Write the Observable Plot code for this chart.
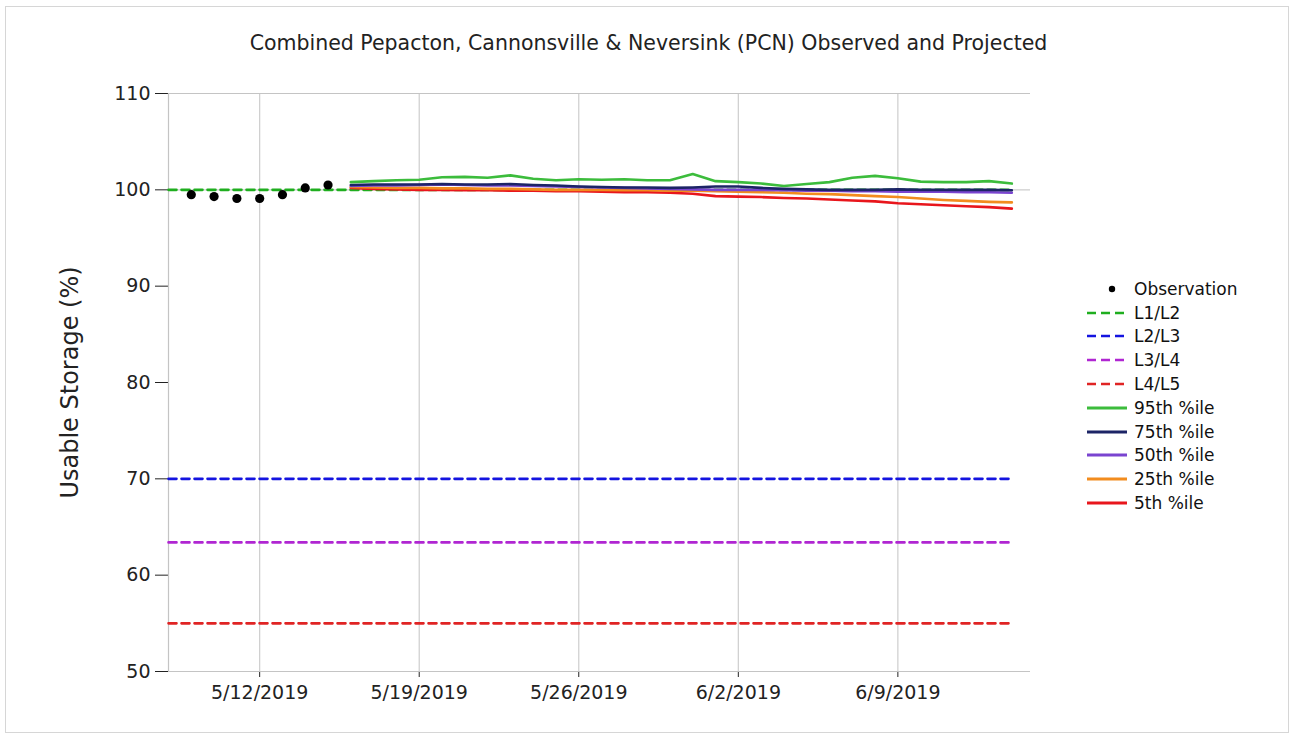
<!DOCTYPE html>
<html><head><meta charset="utf-8">
<script src="https://cdn.jsdelivr.net/npm/d3@7"></script>
<script src="https://cdn.jsdelivr.net/npm/@observablehq/plot@0.6"></script>
<style>
body{margin:0;background:#fff;}
#wrap{position:relative;width:1297px;height:738px;overflow:hidden;font-family:"DejaVu Sans",sans-serif;background:#fff;}
#border{position:absolute;left:5px;top:6px;width:1284px;height:727px;border:1px solid #d6d6d6;box-sizing:border-box;}
#title{position:absolute;left:0;top:31px;width:1297px;text-align:center;font-size:20.5px;color:#222;white-space:nowrap;}
#chart{position:absolute;left:0;top:70px;}
#legend{position:absolute;left:1086px;top:277px;}
.item{height:23.8px;display:flex;align-items:center;font-size:17px;color:#111;white-space:nowrap;}
.item svg{margin-right:6px;}
</style></head>
<body>
<div id="wrap">
  <div id="border"></div>
  <div id="title">Combined Pepacton, Cannonsville &amp; Neversink (PCN) Observed and Projected</div>
  <div id="chart"></div>
  <div id="legend"></div>
</div>
<script>
// ---- data ----
const obsDates = ["2019-05-09","2019-05-10","2019-05-11","2019-05-12","2019-05-13","2019-05-14","2019-05-15"];
const obsValues = [99.5, 99.3, 99.1, 99.1, 99.5, 100.2, 100.5];

const projDates = ["2019-05-16","2019-05-17","2019-05-18","2019-05-19","2019-05-20","2019-05-21","2019-05-22","2019-05-23",
  "2019-05-24","2019-05-25","2019-05-26","2019-05-27","2019-05-28","2019-05-29","2019-05-30","2019-05-31",
  "2019-06-01","2019-06-02","2019-06-03","2019-06-04","2019-06-05","2019-06-06","2019-06-07","2019-06-08",
  "2019-06-09","2019-06-10","2019-06-11","2019-06-12","2019-06-13","2019-06-14"];
const p95 = [100.8,100.9,101.0,101.05,101.3,101.35,101.25,101.5,101.15,101.0,101.1,101.05,101.1,101.0,101.0,101.65,
  100.9,100.8,100.65,100.4,100.6,100.8,101.25,101.45,101.2,100.85,100.8,100.8,100.9,100.65];
const p75 = [100.5,100.55,100.55,100.55,100.6,100.55,100.55,100.6,100.5,100.45,100.35,100.3,100.25,100.25,100.2,100.25,
  100.35,100.35,100.2,100.1,100.05,100.0,100.0,100.0,100.05,100.0,100.0,100.0,100.0,99.95];
const p50 = [100.4,100.45,100.45,100.5,100.55,100.5,100.45,100.45,100.4,100.35,100.3,100.25,100.2,100.15,100.1,100.05,
  100.0,100.0,100.0,99.95,99.9,99.9,99.85,99.85,99.8,99.8,99.8,99.75,99.75,99.7];
const p25 = [100.3,100.25,100.2,100.2,100.15,100.15,100.1,100.1,100.05,100.0,100.0,100.0,99.95,99.95,99.9,99.9,
  99.85,99.8,99.75,99.7,99.6,99.55,99.45,99.35,99.25,99.1,98.95,98.85,98.75,98.7];
const p5 = [100.2,100.1,100.05,100.0,100.0,99.95,99.95,99.9,99.9,99.85,99.85,99.8,99.75,99.75,99.7,99.6,
  99.35,99.3,99.25,99.15,99.1,99.0,98.9,98.8,98.6,98.5,98.4,98.3,98.2,98.05];

const levelNames = ["L1/L2","L2/L3","L3/L4","L4/L5"];
const levelValues = [100, 70, 63.4, 55];
const levelDates = ["2019-05-08","2019-06-14"];

const pctNames = ["95th %ile","75th %ile","50th %ile","25th %ile","5th %ile"];
const pctSeries = [p95, p75, p50, p25, p5];

const xTickDates = ["2019-05-12","2019-05-19","2019-05-26","2019-06-02","2019-06-09"];
const yTicks = [50,60,70,80,90,100,110];

const colors = {
  "Observation":"#000000",
  "L1/L2":"#1fae1f","L2/L3":"#1414e0","L3/L4":"#b026d2","L4/L5":"#e02424",
  "95th %ile":"#3cbc3c","75th %ile":"#1c2466","50th %ile":"#7a44d0","25th %ile":"#f28c1e","5th %ile":"#e8161c"
};

// ---- build tables ----
const parse = d3.timeParse("%Y-%m-%d");
const obs = obsDates.map((d,i)=>({date:parse(d), value:obsValues[i]}));
const levels = levelNames.flatMap((n,i)=>levelDates.map(d=>({name:n, date:parse(d), value:levelValues[i]})));
const proj = pctNames.flatMap((n,i)=>projDates.map((d,j)=>({name:n, date:parse(d), value:pctSeries[i][j]})));
const x0 = parse("2019-05-08"), x1 = new Date(2019,5,14,19,40);

const drawOrder = ["5th %ile","25th %ile","50th %ile","75th %ile","95th %ile"];

const plot = Plot.plot({
  width:1297, height:668,
  marginTop:23, marginBottom:67, marginLeft:168, marginRight:267,
  style:{fontFamily:"DejaVu Sans, sans-serif", fontSize:"19px", color:"#222", background:"transparent", overflow:"visible"},
  x:{type:"time", domain:[x0,x1], ticks:xTickDates.map(parse), tickFormat:d3.timeFormat("%-m/%-d/%Y"), tickSize:6, tickPadding:8, label:null},
  y:{domain:[50,110], ticks:yTicks, tickSize:13, tickPadding:5, label:null},
  marks:[
    Plot.ruleX(xTickDates.map(parse), {stroke:"#cdcdcd", strokeWidth:1.2}),
    Plot.ruleY([100], {stroke:"#cdcdcd", strokeWidth:1.2}),
    Plot.ruleY([50,110], {stroke:"#c4c4c4", strokeWidth:1.2}),
    Plot.ruleX([x0], {stroke:"#c4c4c4", strokeWidth:1.2}),
    ...levelNames.map(n=>Plot.line(levels.filter(d=>d.name===n), {x:"date", y:"value", stroke:colors[n], strokeWidth:2.6, strokeDasharray:"8,5"})),
    ...drawOrder.map(n=>Plot.line(proj.filter(d=>d.name===n), {x:"date", y:"value", stroke:colors[n], strokeWidth:2.6})),
    Plot.dot(obs, {x:"date", y:"value", r:4.6, fill:"#000", stroke:"none"}),
    Plot.text(["Usable Storage (%)"], {frameAnchor:"left", textAnchor:"middle", lineAnchor:"middle", dx:-98, rotate:-90, fontSize:24, fill:"#222"})
  ]
});
document.getElementById("chart").appendChild(plot);

// ---- legend ----
const legendItems = ["Observation", ...levelNames, ...pctNames];
const leg = document.getElementById("legend");
legendItems.forEach(n=>{
  const div = document.createElement("div");
  div.className = "item";
  let sw;
  if (n === "Observation") {
    sw = `<svg width="42" height="12"><circle cx="26" cy="6" r="3.2" fill="#000"/></svg>`;
  } else if (levelNames.includes(n)) {
    sw = `<svg width="42" height="12"><line x1="1" x2="41" y1="6" y2="6" stroke="${colors[n]}" stroke-width="2.6" stroke-dasharray="9,5"/></svg>`;
  } else {
    sw = `<svg width="42" height="12"><line x1="1" x2="41" y1="6" y2="6" stroke="${colors[n]}" stroke-width="2.8"/></svg>`;
  }
  div.innerHTML = sw + `<span>${n}</span>`;
  leg.appendChild(div);
});
</script>
</body></html>
